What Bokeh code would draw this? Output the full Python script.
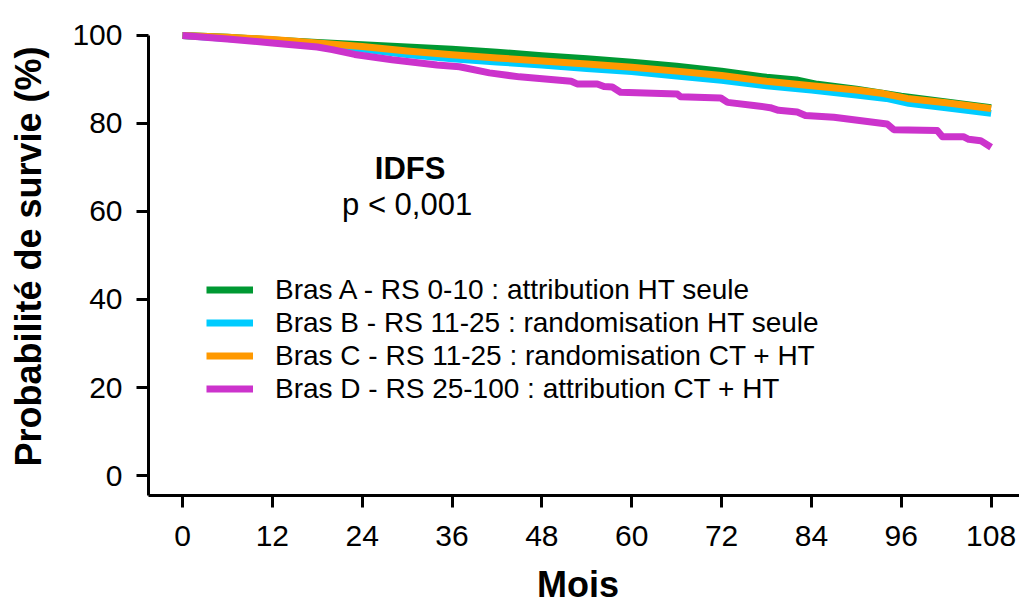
from bokeh.plotting import figure
from bokeh.layouts import column
from bokeh.models import Range1d, FixedTicker, Legend, LegendItem, Label
from bokeh.embed import file_html
from bokeh.resources import INLINE

# ---- data ----
series_labels = [
    "Bras A - RS 0-10 : attribution HT seule",
    "Bras B - RS 11-25 : randomisation HT seule",
    "Bras C - RS 11-25 : randomisation CT + HT",
    "Bras D - RS 25-100 : attribution CT + HT",
]
series_colors = ["#009933", "#00CCFF", "#FF9900", "#CC33CC"]

months_a = [0, 6, 12, 18, 24, 30, 36, 42, 48, 54, 60, 66, 72, 78, 82, 84.8, 90, 96, 102, 108]
surv_a = [100, 99.6, 99.0, 98.4, 97.9, 97.4, 96.9, 96.2, 95.4, 94.7, 93.9, 93.0, 91.9, 90.5, 89.9, 88.9, 87.8, 86.2, 84.9, 83.6]

months_b = [0, 6, 12, 18, 24, 30, 36, 42, 48, 54, 60, 66, 72, 78, 84, 90, 94, 97, 102, 108]
surv_b = [100, 99.3, 98.7, 97.8, 96.9, 95.7, 94.7, 94.0, 93.3, 92.5, 91.8, 90.8, 89.8, 88.6, 87.6, 86.5, 85.7, 84.6, 83.6, 82.3]

months_c = [0, 6, 12, 18, 24, 30, 36, 42, 48, 54, 60, 66, 72, 78, 84, 90, 93.6, 96.8, 102, 108]
surv_c = [100, 99.6, 99.1, 98.3, 97.5, 96.5, 95.6, 94.9, 94.2, 93.5, 92.8, 91.9, 90.9, 89.6, 88.6, 87.6, 86.8, 85.7, 84.7, 83.4]

months_d = [0, 6, 12, 18, 20, 23, 28, 34, 37, 41, 45, 51.9, 52.7, 55.4, 56.3, 57.4, 58.5, 66.1, 66.5,
            71.9, 72.8, 76.3, 78.5, 79.6, 82.1, 83.2, 87, 94.1, 95, 100.8, 101.5, 104.3, 105, 106.6, 108]
surv_d = [100, 99.2, 98.3, 97.4, 96.8, 95.7, 94.5, 93.3, 92.9, 91.5, 90.6, 89.6, 89.0, 89.0, 88.4, 88.3, 87.1, 86.7, 86.1,
          85.8, 84.8, 84.1, 83.6, 83.0, 82.6, 81.8, 81.4, 79.9, 78.6, 78.4, 77.0, 77.0, 76.4, 76.1, 74.6]

x_ticks = [0, 12, 24, 36, 48, 60, 72, 84, 96, 108]
y_ticks = [0, 20, 40, 60, 80, 100]

FONT = "Liberation Sans"
Y0, Y1 = -4.545, 104.09

p = figure(width=1019, height=560, output_backend="svg", toolbar_location=None,
           x_range=Range1d(-4.54, 111.79), y_range=Range1d(Y0, Y1),
           min_border_left=148, min_border_right=0, min_border_top=17, min_border_bottom=65)
p.background_fill_color = "white"
p.border_fill_color = "white"
p.outline_line_color = None
p.xgrid.visible = False
p.ygrid.visible = False

for ax in (p.xaxis[0], p.yaxis[0]):
    ax.axis_line_width = 3
    ax.axis_line_color = "black"
    ax.major_tick_line_width = 3
    ax.major_tick_line_color = "black"
    ax.major_tick_out = 12
    ax.major_tick_in = 0
    ax.minor_tick_line_color = None
    ax.major_label_text_font = FONT
    ax.major_label_text_font_size = "30px"
    ax.major_label_text_color = "black"
    ax.axis_label_text_font = FONT
    ax.axis_label_text_font_size = "36px"
    ax.axis_label_text_font_style = "bold"
    ax.axis_label_text_color = "black"

p.xaxis[0].ticker = FixedTicker(ticks=x_ticks)
p.yaxis[0].ticker = FixedTicker(ticks=y_ticks)
p.yaxis[0].axis_label = "Probabilité de survie (%)"
p.xaxis[0].major_label_standoff = 18
p.yaxis[0].major_label_standoff = 14
p.yaxis[0].axis_label_standoff = 20
p.yaxis[0].bounds = (Y0, 100)

data = [(months_a, surv_a), (months_b, surv_b), (months_c, surv_c), (months_d, surv_d)]
renderers = []
for (mx, sy), col in zip(data, series_colors):
    r = p.line(mx, sy, line_color=col, line_width=7, line_join="round")
    renderers.append(r)

legend = Legend(items=[LegendItem(label=l, renderers=[r]) for l, r in zip(series_labels, renderers)],
                location=(58, 90), padding=0, margin=0, spacing=0,
                glyph_width=47, glyph_height=33, label_height=33, label_standoff=22,
                label_text_font=FONT, label_text_font_size="28px", label_text_color="black",
                border_line_color=None, background_fill_alpha=0)
p.add_layout(legend)

p.add_layout(Label(x=30.4, y=69.8, text="IDFS", text_align="center", text_baseline="alphabetic",
                   text_font=FONT, text_font_size="31px", text_font_style="bold", text_color="black"))
p.add_layout(Label(x=30.0, y=61.65, text="p < 0,001", text_align="center", text_baseline="alphabetic",
                   text_font=FONT, text_font_size="31px", text_color="black"))

# strip below the chart holding the x-axis title (its frame is aligned with the chart's frame)
q = figure(width=1019, height=43, output_backend="svg", toolbar_location=None,
           x_range=Range1d(148, 1019), y_range=Range1d(0, 43),
           x_axis_location=None, y_axis_location=None,
           min_border_left=0, min_border_right=0, min_border_top=0, min_border_bottom=0)
q.background_fill_color = "white"
q.border_fill_color = "white"
q.outline_line_color = None
q.xgrid.visible = False
q.ygrid.visible = False
q.add_layout(Label(x=577.5, y=19.5, text="Mois", text_align="center", text_baseline="alphabetic",
                   text_font=FONT, text_font_size="36px", text_font_style="bold", text_color="black"))

layout = column(p, q, spacing=0)
open("out.html", "w").write(file_html(layout, INLINE))
